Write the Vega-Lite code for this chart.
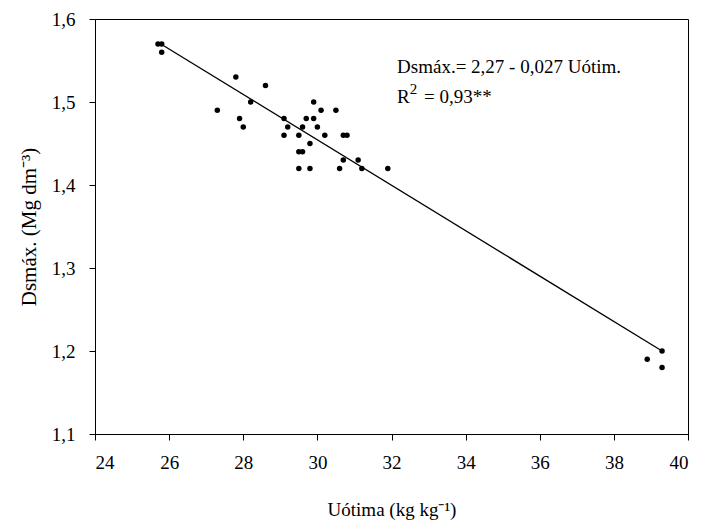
{
  "$schema": "https://vega.github.io/schema/vega-lite/v6.json",
  "width": 593,
  "height": 415,
  "autosize": {"type": "none"},
  "padding": {"left": 95, "top": 19, "right": 15, "bottom": 88},
  "background": "white",
  "config": {
    "view": {"stroke": "black", "strokeWidth": 1},
    "font": "Liberation Serif",
    "axis": {
      "grid": false,
      "domainColor": "black",
      "tickColor": "black",
      "tickSize": 6,
      "labelFont": "Liberation Serif",
      "labelFontSize": 19,
      "labelColor": "black",
      "titleFont": "Liberation Serif",
      "titleFontSize": 19,
      "titleFontWeight": "normal",
      "titleColor": "black"
    }
  },
  "datasets": {
    "pts": [
      {"U": 25.7, "D": 1.57}, {"U": 25.8, "D": 1.57}, {"U": 25.8, "D": 1.56},
      {"U": 27.8, "D": 1.53}, {"U": 28.6, "D": 1.52}, {"U": 28.2, "D": 1.50},
      {"U": 27.3, "D": 1.49}, {"U": 27.9, "D": 1.48}, {"U": 28.0, "D": 1.47},
      {"U": 29.9, "D": 1.50}, {"U": 30.1, "D": 1.49}, {"U": 30.5, "D": 1.49},
      {"U": 29.1, "D": 1.48}, {"U": 29.7, "D": 1.48}, {"U": 29.9, "D": 1.48},
      {"U": 29.2, "D": 1.47}, {"U": 29.6, "D": 1.47}, {"U": 30.0, "D": 1.47},
      {"U": 29.1, "D": 1.46}, {"U": 29.5, "D": 1.46}, {"U": 30.2, "D": 1.46},
      {"U": 30.7, "D": 1.46}, {"U": 30.8, "D": 1.46}, {"U": 29.8, "D": 1.45},
      {"U": 29.5, "D": 1.44}, {"U": 29.6, "D": 1.44}, {"U": 30.7, "D": 1.43},
      {"U": 31.1, "D": 1.43}, {"U": 29.5, "D": 1.42}, {"U": 29.8, "D": 1.42},
      {"U": 30.6, "D": 1.42}, {"U": 31.2, "D": 1.42}, {"U": 31.9, "D": 1.42},
      {"U": 39.3, "D": 1.20}, {"U": 38.9, "D": 1.19}, {"U": 39.3, "D": 1.18}
    ],
    "fit": [
      {"U": 25.7, "D": 1.572},
      {"U": 39.3, "D": 1.200}
    ]
  },
  "layer": [
    {
      "data": {"name": "fit"},
      "mark": {"type": "line", "color": "black", "strokeWidth": 1.3},
      "encoding": {
        "x": {"field": "U", "type": "quantitative",
          "scale": {"domain": [24, 40], "nice": false, "zero": false},
          "axis": {"values": [24, 26, 28, 30, 32, 34, 36, 38, 40], "labelPadding": 13, "titlePadding": 28, "title": "Uótima (kg kg⁻¹)"}},
        "y": {"field": "D", "type": "quantitative",
          "scale": {"domain": [1.1, 1.6], "nice": false, "zero": false},
          "axis": {"values": [1.1, 1.2, 1.3, 1.4, 1.5, 1.6], "labelPadding": 14, "titlePadding": 12, "titleFontSize": 21,
            "labelExpr": "replace(format(datum.value, '.1f'), '.', ',')",
            "title": "Dsmáx. (Mg dm⁻³)"}}
      }
    },
    {
      "data": {"name": "pts"},
      "mark": {"type": "circle", "color": "black", "opacity": 1, "size": 30},
      "encoding": {
        "x": {"field": "U", "type": "quantitative"},
        "y": {"field": "D", "type": "quantitative"}
      }
    },
    {
      "data": {"values": [{"t": "Dsmáx.= 2,27 - 0,027 Uótim."}]},
      "mark": {"type": "text", "align": "left", "baseline": "alphabetic", "fontSize": 19, "font": "Liberation Serif", "color": "black"},
      "encoding": {"x": {"datum": 32.15}, "y": {"datum": 1.535}, "text": {"field": "t"}}
    },
    {
      "data": {"values": [{"t": "R"}]},
      "mark": {"type": "text", "align": "left", "baseline": "alphabetic", "fontSize": 19, "font": "Liberation Serif", "color": "black"},
      "encoding": {"x": {"datum": 32.15}, "y": {"datum": 1.4988}, "text": {"field": "t"}}
    },
    {
      "data": {"values": [{"t": "2"}]},
      "mark": {"type": "text", "align": "left", "baseline": "alphabetic", "fontSize": 15, "font": "Liberation Serif", "color": "black"},
      "encoding": {"x": {"datum": 32.49}, "y": {"datum": 1.5096}, "text": {"field": "t"}}
    },
    {
      "data": {"values": [{"t": "= 0,93**"}]},
      "mark": {"type": "text", "align": "left", "baseline": "alphabetic", "fontSize": 19, "font": "Liberation Serif", "color": "black"},
      "encoding": {"x": {"datum": 32.88}, "y": {"datum": 1.4988}, "text": {"field": "t"}}
    }
  ]
}
